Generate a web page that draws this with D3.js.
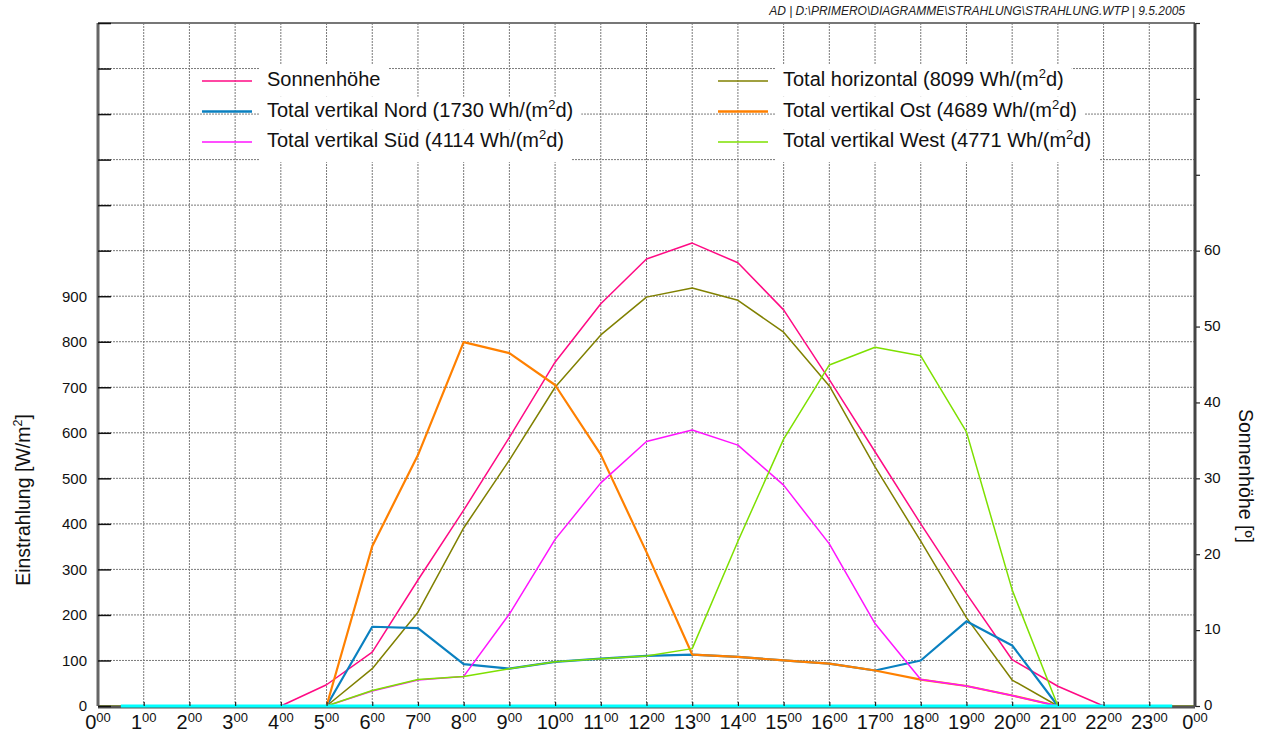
<!DOCTYPE html>
<html><head><meta charset="utf-8">
<script src="https://cdn.jsdelivr.net/npm/d3@7"></script>
<style>body{margin:0;background:#fff}svg{display:block;font-family:"Liberation Sans",Arial,sans-serif}</style>
</head><body><svg id="c" width="1265" height="731"></svg>
<script>
const hours = d3.range(0, 25);
const hourLabels = hours.map(h => String(h % 24));
const leftTicks = d3.range(0, 1600, 100);
const leftTickLabels = [0,100,200,300,400,500,600,700,800,900];
const rightTicks = d3.range(0, 100, 10);
const rightTickLabels = [0,10,20,30,40,50,60];

const sonnenhoehe = [0,0,0,0,0,2.8,7.1,16.6,25.8,35.4,45.3,53.0,58.9,61.0,58.4,52.2,43.0,33.5,24.0,14.8,6.1,2.6,0,0,0];
const horizontal = [0,0,0,0,0,0,82,206,391,540,700,815,898,918,891,821,703,525,362,194,57,0,0,0,0];
const nord = [0,0,0,0,0,0,174,171,92,82,97,104,110,113,108,100,93,78,100,186,133,0,0,0,0];
const ost = [0,0,0,0,0,0,351,551,799,775,705,552,338,113,108,100,93,78,58,44,23,0,0,0,0];
const sued = [0,0,0,0,0,0,33,57,65,202,366,490,581,606,573,485,356,181,58,44,23,0,0,0,0];
const west = [0,0,0,0,0,0,34,58,65,82,97,104,110,126,362,586,749,788,769,602,255,0,0,0,0];
const nullHours = [0.5, 23.5];
const nullValues = [0, 0];

const legendLeft = [
  {name:"Sonnenhöhe", sup:null, color:"#ff0a84", w:1.5},
  {name:"Total vertikal Nord (1730 Wh/(m", sup:"d)", color:"#0a80c0", w:2.5},
  {name:"Total vertikal Süd (4114 Wh/(m", sup:"d)", color:"#ff14ff", w:1.5}
];
const legendRight = [
  {name:"Total horizontal (8099 Wh/(m", sup:"d)", color:"#808000", w:1.5},
  {name:"Total vertikal Ost (4689 Wh/(m", sup:"d)", color:"#ff8000", w:2.5},
  {name:"Total vertikal West (4771 Wh/(m", sup:"d)", color:"#7ee000", w:1.5}
];

const svg = d3.select("#c");
const X0 = 98, X1 = 1195, YT = 23, YB = 706;
const x = d3.scaleLinear().domain([0, 24]).range([X0, X1]);
const yL = d3.scaleLinear().domain([0, 1500]).range([YB, YT]);
const yR = d3.scaleLinear().domain([0, 90]).range([YB, YT]);

// grid
const g = svg.append("g");
g.selectAll("line.v").data(hours.slice(1, 24)).join("line")
  .attr("x1", d => x(d)).attr("x2", d => x(d)).attr("y1", YT).attr("y2", YB)
  .attr("stroke", "#7a7a7a").attr("stroke-width", 1).attr("stroke-dasharray", "2,1");
g.selectAll("line.h").data(leftTicks.slice(1, 15)).join("line")
  .attr("x1", X0).attr("x2", X1).attr("y1", d => yL(d)).attr("y2", d => yL(d))
  .attr("stroke", "#7a7a7a").attr("stroke-width", 1).attr("stroke-dasharray", "2,1");

// legend
function legendBoxes(items, tx) {
  items.forEach((it, i) => {
    const base = 86 + i * 30.5;
    const t = svg.append("text").attr("x", tx).attr("y", base).attr("font-size", 20).attr("fill", "#111");
    t.append("tspan").text(it.name);
    if (it.sup) {
      t.append("tspan").attr("font-size", 13).attr("dy", -8).text("2");
      t.append("tspan").attr("dy", 8).text(it.sup);
    }
    const bb = t.node().getBBox();
    svg.insert("rect", "text").attr("x", tx - 7).attr("y", 64 + i * 32.7)
      .attr("width", bb.width + 15).attr("height", 32.7).attr("fill", "#fff");
    svg.append("line").attr("x1", tx - 65).attr("x2", tx - 15)
      .attr("y1", base - 5).attr("y2", base - 5)
      .attr("stroke", it.color).attr("stroke-width", it.w);
  });
}
legendBoxes(legendLeft, 267);
legendBoxes(legendRight, 783);

// series
const lineL = d3.line().x((d, i) => x(hours[i])).y(d => yL(d));
const lineR = d3.line().x((d, i) => x(hours[i])).y(d => yR(d));
const series = [
  {data: horizontal, color:"#808000", w:1.5, f: lineL},
  {data: sonnenhoehe, color:"#ff0a84", w:1.5, f: lineR},
  {data: nord, color:"#0a80c0", w:2.2, f: lineL},
  {data: ost, color:"#ff8000", w:2.2, f: lineL},
  {data: sued, color:"#ff14ff", w:1.5, f: lineL},
  {data: west, color:"#7ee000", w:1.5, f: lineL}
];
series.forEach(s => {
  svg.append("path").attr("d", s.f(s.data)).attr("fill", "none")
    .attr("stroke", s.color).attr("stroke-width", s.w).attr("stroke-linejoin", "round");
});

// frame
svg.append("line").attr("x1", X0).attr("x2", X1).attr("y1", YT).attr("y2", YT)
  .attr("stroke", "#777").attr("stroke-width", 2);
svg.append("line").attr("x1", X0).attr("x2", X0).attr("y1", YT).attr("y2", YB)
  .attr("stroke", "#666").attr("stroke-width", 3);
svg.append("line").attr("x1", X1).attr("x2", X1).attr("y1", YT).attr("y2", YB + 1)
  .attr("stroke", "#444").attr("stroke-width", 3);
svg.append("line").attr("x1", X0).attr("x2", X1).attr("y1", YB + 1).attr("y2", YB + 1)
  .attr("stroke", "#555").attr("stroke-width", 3);
svg.append("path").attr("d", d3.line().x(d => x(d)).y((d, i) => yL(nullValues[i]))(nullHours))
  .attr("stroke", "#00ffff").attr("stroke-width", 3).attr("fill", "none");

// left axis
const axL = svg.append("g").attr("transform", `translate(${X0},0)`)
  .call(d3.axisRight(yL).tickValues(leftTicks).tickSize(13).tickFormat(""));
axL.select(".domain").remove();
axL.selectAll(".tick line").attr("stroke", "#111").attr("stroke-width", 1.5);
const axL2 = svg.append("g").attr("transform", `translate(${X0 - 11},0)`)
  .call(d3.axisLeft(yL).tickValues(leftTickLabels).tickSize(0).tickPadding(0));
axL2.select(".domain").remove();
axL2.selectAll("text").attr("font-size", 15).attr("fill", "#111").attr("font-family", "Liberation Sans, Arial");

// right axis
const axR = svg.append("g").attr("transform", `translate(${X1 + 1},0)`)
  .call(d3.axisRight(yR).tickValues(rightTicks).tickSize(4).tickFormat(""));
axR.select(".domain").remove();
axR.selectAll(".tick line").attr("stroke", "#222").attr("stroke-width", 1.2);
const axR2 = svg.append("g").attr("transform", `translate(${X1 + 9},-1)`)
  .call(d3.axisRight(yR).tickValues(rightTickLabels).tickSize(0).tickPadding(0));
axR2.select(".domain").remove();
axR2.selectAll("text").attr("font-size", 15).attr("fill", "#111").attr("font-family", "Liberation Sans, Arial");

// bottom axis
const axB = svg.append("g").attr("transform", `translate(0,${YB})`)
  .call(d3.axisTop(x).tickValues(hours.slice(1, 24)).tickSize(4).tickFormat(""));
axB.select(".domain").remove();
axB.selectAll(".tick line").attr("stroke", "#222").attr("stroke-width", 1.2);
const hl = svg.append("g").selectAll("text").data(hours).join("text")
  .attr("x", d => x(d)).attr("y", 728.5).attr("text-anchor", "middle")
  .attr("font-size", 20).attr("fill", "#111");
hl.append("tspan").text((d, i) => hourLabels[i]);
hl.append("tspan").attr("font-size", 13).attr("dy", -7).text("00");

// axis titles
const tl = svg.append("text").attr("transform", "translate(30,500) rotate(-90)")
  .attr("text-anchor", "middle").attr("font-size", 19.5).attr("fill", "#111");
tl.append("tspan").text("Einstrahlung [W/m");
tl.append("tspan").attr("font-size", 12.5).attr("dy", -8).text("2");
tl.append("tspan").attr("dy", 8).text("]");
svg.append("text").attr("transform", "translate(1239,476) rotate(90)")
  .attr("text-anchor", "middle").attr("font-size", 19.5).attr("fill", "#111")
  .text("Sonnenhöhe [º]");

// header
svg.append("text").attr("x", 1185).attr("y", 15).attr("text-anchor", "end")
  .attr("font-size", 12).attr("font-style", "italic").attr("fill", "#222")
  .text("AD | D:\\PRIMERO\\DIAGRAMME\\STRAHLUNG\\STRAHLUNG.WTP | 9.5.2005");
</script></body></html>
